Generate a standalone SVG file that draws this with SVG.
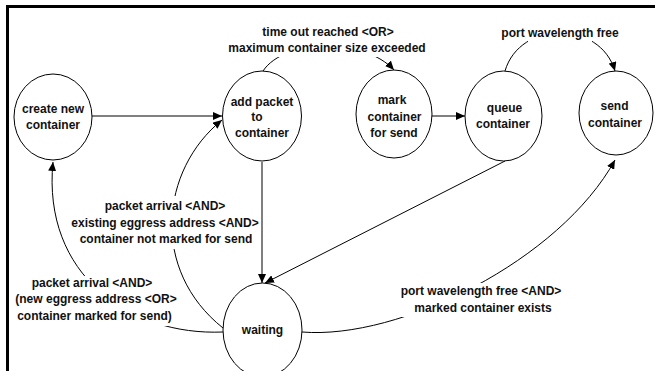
<svg xmlns="http://www.w3.org/2000/svg" width="655" height="371" viewBox="0 0 655 371">
<style>
.node ellipse{fill:#fff;stroke:#000;stroke-width:1}
text{font-family:"Liberation Sans",Arial,sans-serif;font-weight:bold;font-size:12px;fill:#111;text-anchor:middle}
.edge{fill:none;stroke:#000;stroke-width:1}
</style>
<defs>
<marker id="arr" markerUnits="userSpaceOnUse" markerWidth="10" markerHeight="8" refX="9" refY="4" orient="auto">
<path d="M0,0 L9,4 L0,8 Z" fill="#000"/>
</marker>
<mask id="gaps" maskUnits="userSpaceOnUse" x="0" y="0" width="655" height="371">
<rect x="0" y="0" width="655" height="371" fill="#fff"/>
<rect x="226" y="24" width="202" height="33" fill="#000"/>
<rect x="528" y="18" width="64" height="26" fill="#000"/>
<rect x="70" y="196" width="189" height="53" fill="#000"/>
<rect x="14" y="276" width="166" height="50" fill="#000"/>
<rect x="398" y="283" width="168" height="34" fill="#000"/>
</mask>
</defs>
<rect x="7.5" y="6.5" width="700" height="400" fill="#fff" stroke="#000" stroke-width="3"/>
<g id="connectors" mask="url(#gaps)">
<path class="edge" d="M92,116 L222,116" marker-end="url(#arr)"/>
<path class="edge" d="M223,328 C150,270 160,170 222,120" marker-end="url(#arr)"/>
<path class="edge" d="M223,332 C130,336 42,275 53,162" marker-end="url(#arr)"/>
<path class="edge" d="M262,162 L262,283" marker-end="url(#arr)"/>
<path class="edge" d="M505,161 L265,283" marker-end="url(#arr)"/>
<path class="edge" d="M263,71 C285,38 365,38 394,70" marker-end="url(#arr)"/>
<path class="edge" d="M432,116 L465,116" marker-end="url(#arr)"/>
<path class="edge" d="M505,71 C520,20 600,20 615,71" marker-end="url(#arr)"/>
<path class="edge" d="M302,332 C400,340 560,260 615,160" marker-end="url(#arr)"/>
</g>
<g id="create" class="node"><ellipse cx="53" cy="117" rx="39" ry="43"/><text x="53" y="113">create new</text><text x="53" y="129">container</text></g>
<g id="addpacket" class="node"><ellipse cx="262" cy="116" rx="39.5" ry="45"/><text x="262" y="106">add packet</text><text x="257" y="121">to</text><text x="262" y="137">container</text></g>
<g id="mark" class="node"><ellipse cx="394" cy="114" rx="38" ry="44"/><text x="392" y="104">mark</text><text x="394.5" y="121">container</text><text x="394" y="137">for send</text></g>
<g id="queue" class="node"><ellipse cx="503.5" cy="116" rx="38.5" ry="45"/><text x="504.5" y="112">queue</text><text x="503" y="128">container</text></g>
<g id="send" class="node"><ellipse cx="616" cy="113" rx="37" ry="42"/><text x="614.5" y="110">send</text><text x="615" y="127">container</text></g>
<g id="waiting" class="node"><ellipse cx="262.5" cy="330" rx="39.5" ry="47"/><text x="262.5" y="334">waiting</text></g>
<g id="labels">
<text x="328" y="36">time out reached &lt;OR&gt;</text>
<text x="327" y="52">maximum container size exceeded</text>
<text x="560" y="37">port wavelength free</text>
<text x="165" y="210">packet arrival &lt;AND&gt;</text>
<text x="165" y="227">existing eggress address &lt;AND&gt;</text>
<text x="166" y="243">container not marked for send</text>
<text x="92" y="287">packet arrival &lt;AND&gt;</text>
<text x="96" y="303">(new eggress address &lt;OR&gt;</text>
<text x="94.5" y="320">container marked for send)</text>
<text x="481" y="295">port wavelength free &lt;AND&gt;</text>
<text x="483" y="312">marked container exists</text>
</g>
</svg>
